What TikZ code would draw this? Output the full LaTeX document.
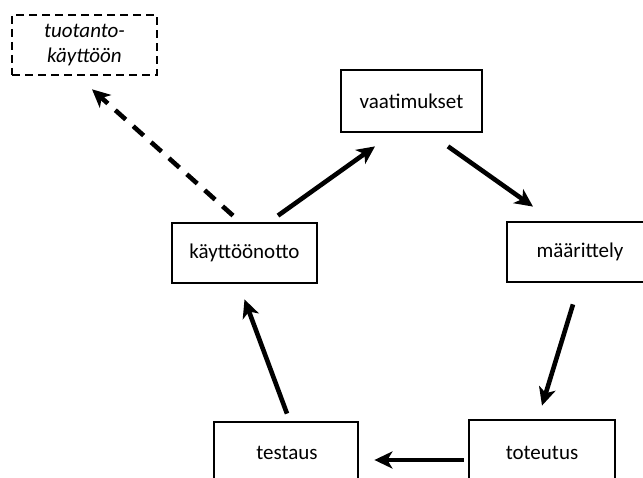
\documentclass[tikz,border=0pt]{standalone}
\usepackage{fontspec}
\setmainfont{Carlito}
\usetikzlibrary{arrows.meta}
\begin{document}
\begin{tikzpicture}[x=1pt,y=1pt,
  label/.style={font=\fontsize{21}{24.5}\selectfont},
  phase/.style={draw, line width=2.8pt, minimum width=145pt, minimum height=60pt,
    inner sep=0pt, label},
  target/.style={phase, line width=2.6pt, dash pattern=on 8pt off 5pt, align=center,
    font=\fontsize{21}{24.5}\selectfont\itshape},
  flow/.style={line width=4.6pt, -{Stealth[length=18pt,width=17pt,inset=5pt]}},
  flowdash/.style={flow, dash pattern=on 14pt off 10pt}]
  \useasboundingbox (0,0) rectangle (643,477);
  \clip (0,0) rectangle (643,477);
  % boxes of the cycle
  \node[target] (prod) at (84.5,432) {tuotanto-\\käyttöön};
  \node[phase, minimum width=141pt, minimum height=62pt] (req) at (411.5,376) {vaatimukset};
  \node[phase] (kay) at (244.5,224) {käyttöönotto};
  \node[phase, minimum width=150pt] (spec) at (582,225) {};
  \node[label] at (580,225) {määrittely};
  \node[phase, minimum width=144pt, minimum height=70pt] (test) at (286,20) {};
  \node[label] at (287,24) {testaus};
  \node[phase, minimum width=146pt, minimum height=70pt] (tot) at (542,22) {};
  \node[label] at (542,24) {toteutus};
  % connectors
  \draw[flowdash] ([xshift=-11.5pt,yshift=6pt]kay.north) -- ([xshift=7.5pt,yshift=-13pt]prod.south);
  \draw[flow] ([xshift=33.5pt,yshift=6pt]kay.north) -- ([xshift=-36.5pt,yshift=-13pt]req.south);
  \draw[flow] ([xshift=36.5pt,yshift=-13pt]req.south) -- ([xshift=-49pt,yshift=14pt]spec.north);
  \draw[flow] ([xshift=-9pt,yshift=-21pt]spec.south) -- ([yshift=13pt]tot.north);
  \draw[flow] ([xshift=-4pt,yshift=-5pt]tot.west) -- ([xshift=15pt,yshift=-3pt]test.east);
  \draw[flow] ([xshift=1pt,yshift=7pt]test.north) -- ([yshift=-15pt]kay.south);
\end{tikzpicture}
\end{document}
